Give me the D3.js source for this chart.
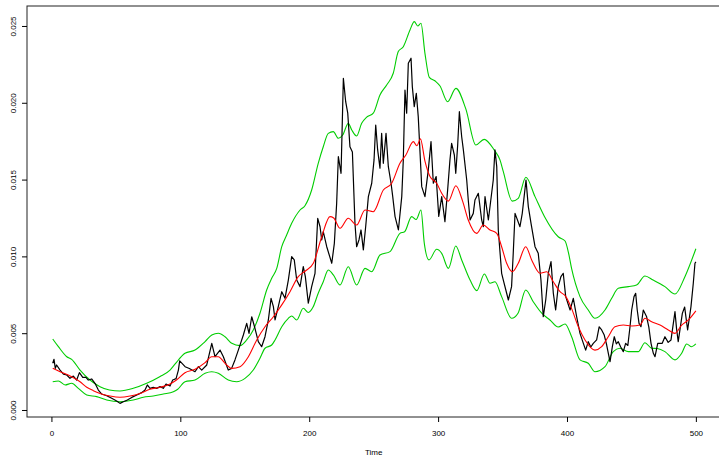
<!DOCTYPE html>
<html>
<head>
<meta charset="utf-8">
<script src="https://cdn.jsdelivr.net/npm/d3@7"></script>
<style>
body{margin:0;background:#fff}
svg{display:block}
text{font-family:"Liberation Sans",Arial,sans-serif}
</style>
</head>
<body>
<div id="chart"></div>
<script>
// values are in thousandths (x 1e-3)
var xTicks = [0, 100, 200, 300, 400, 500];
var yTicks = [0, 5, 10, 15, 20, 25];

var blackT = [1,2,3,4,6.7,9.3,11.9,14.4,17,19.6,21.7,24.3,26.8,28.6,31.2,33.8,36.4,39,42.9,46.8,50.6,53.2,55.8,58.9,62.3,66.2,70,72.6,74.4,76.5,79,81.6,84.3,86.8,88.9,92,94.1,96.7,98.5,99.5,103.7,107,111.4,114,116.6,120.5,124.4,126.9,130.8,133.4,137.2,139.8,142.4,145,148.9,151.5,153.3,155.4,157.9,160.5,163.1,165.7,168.3,170.4,172.2,173.5,176,178.7,181.2,183.8,186.4,188.4,190.3,192.9,195.4,197,199.3,201.9,204.5,206.6,208.4,209.7,210.9,213.6,217.5,219.5,221.3,222.6,224.7,226.5,228.3,229.9,231.6,233.5,235.5,236.8,238.6,240.2,242,243.8,245.9,248.5,250.3,251.6,253.1,254.9,256.2,257.5,259.6,261.4,263.5,264.8,266.6,269.2,271.8,273,274.3,275.6,276.9,279,280,281.5,283.1,284.6,287.3,289.8,292.4,294.5,296.3,298.5,300.5,302.8,305.3,307.4,309.2,310.5,312.6,313.7,315.2,316.5,318.3,319.6,322.2,323.4,324.8,327.3,328.6,331.2,333.8,335.1,336.4,339,342.8,344.1,345.5,346.7,349.3,350.6,353.2,354.5,357,358.3,359.7,363.5,365.3,368.2,370,372.1,375.2,377.7,379.8,381.6,383.5,385.5,387.6,389.4,391.2,393.2,395.3,397.1,399,402.4,404.9,407.5,410.1,412.7,414.5,416.5,418.5,420.4,423,425,426.9,428.8,430.8,433.4,435.2,436.7,438.3,439.8,441.7,443.7,445.5,447.2,448.9,450.2,452,453.3,454.5,455.9,457.4,459.2,461.8,463.5,465.2,467,468.3,470.4,473.9,476,478.5,480.7,483.8,485,486.3,489.5,491.3,493.6,496.2,498,499.3,500];
var blackV = [3.04,3.3,2.71,2.93,2.6,2.34,2.28,2.06,2.21,1.95,2.43,2.13,2.13,1.95,2.02,1.74,1.3,1.04,0.93,0.76,0.59,0.43,0.54,0.65,0.82,0.98,1.13,1.3,1.63,1.41,1.48,1.41,1.52,1.41,1.69,1.56,1.95,2.04,2.6,3.2,2.82,2.7,2.49,2.82,2.6,2.93,4.34,3.47,3.9,3.47,2.6,2.71,3.26,3.9,4.88,5.64,4.99,6.07,5.32,4.45,4.12,4.77,5.86,7.27,6.73,5.86,6.73,7.7,7.27,8.46,9.98,9.77,8.46,8.03,9.33,8.68,6.95,8.03,8.9,12.48,11.93,11.07,11.61,10.63,9.55,10.85,13.46,16.49,15.41,21.59,20.07,19.32,17.14,16.8,12.15,10.63,11.07,11.72,10.42,11.93,13.89,14.76,16.28,18.55,16.93,15.74,18.01,16.06,18.01,15.84,14.76,13.89,12.59,11.72,13.89,16.28,20.83,19.32,22.57,22.9,21.05,19.75,20.62,19.1,14.54,13.89,15.63,17.47,14.76,15.2,12.6,13.89,12.26,14.32,16.28,17.36,16.6,15.41,17.25,19.42,17.79,16.93,14.97,13.67,12.37,12.8,13.67,14.11,12.37,11.93,13.89,12.37,14.97,16.93,15.84,11.72,8.9,8.46,7.6,7.16,8.03,10.2,12.8,11.93,12.8,14.97,13.24,12.15,10.63,10.2,8.46,6.07,7.16,8.9,9.66,7.6,6.51,8.03,8.68,8.9,7.38,6.51,7.27,6.07,4.99,4.34,3.9,4.45,4.1,4.34,4.56,5.42,5.21,4.9,4.23,3.14,4.12,4.77,4.3,4.45,4.1,3.8,4.34,4.2,5.42,6.51,7.38,7.6,6.51,5.64,5.42,6.51,6.07,5.4,4.34,3.69,3.47,4.34,4.34,4.77,4.4,4.56,6.4,5.3,4.45,6.29,6.7,5.21,6.73,8.25,9.55,9.64];

var redT = [1,6.7,15.7,22.2,27.4,32.5,37.7,45.5,53.2,61,68.7,76.5,84.3,92,97,103.6,111.4,119.2,124.3,129.5,134.7,139.9,146.3,152.8,159.3,165.7,172.2,178.7,185.1,191.5,197,203.2,209.7,216.1,219,223.9,230.3,236.8,243.3,249.7,257.5,264,270.4,275,280.8,283.5,286.3,289.8,293.7,298.9,302.8,308,313.8,319,323.4,329.9,335.1,340.3,345.5,349.3,353.2,357.6,362.2,368,372.6,379.1,384.3,389.4,394.6,399,403.6,408.8,414,421.7,426.9,432,437.2,443.7,450.2,456.6,460.5,465.7,472.2,478.6,483.8,489,494.2,500];
var redV = [2.71,2.49,2.17,1.84,1.48,1.26,1.08,0.91,0.83,0.91,1.08,1.35,1.48,1.69,1.95,2.43,2.65,3.08,3.47,3.47,3.04,2.71,2.82,3.47,4.56,5.42,6.07,6.84,7.7,8.68,9.05,9.55,11.28,12.59,12.5,11.83,12.48,12.04,13.02,12.91,14.32,14.76,16.06,16.6,17.47,17.2,17.65,16.2,15.2,14.76,14.11,13.6,14.6,13.6,12.37,11.5,12.04,11.72,11.5,10.63,9.55,9.0,9.55,10.63,9.77,8.9,9.0,8.35,7.7,7.4,6.6,5.42,4.56,3.9,4.12,4.77,5.42,5.53,5.47,5.53,5.97,5.75,5.53,5.21,4.99,5.53,5.86,6.45];

var upperT = [1,5.4,11.9,15.7,22.2,29.9,37.7,45,53.2,63.5,73.9,84,92,96,103.6,111.4,119.2,124.4,129.5,134.7,139.9,146.3,151.5,156.6,161.8,167,170.9,174.8,178.7,182.5,186.4,192.9,196.7,201.9,207,210.9,214.8,218.7,222.6,226,230.3,233,236.8,240.7,244.6,249.7,254.9,260.1,265.2,269.1,273,278.2,281.5,284.2,286.7,289.8,293.2,298,301.5,307.4,313.8,321.5,329.3,335.7,343.5,348,350.6,357.5,362.2,368.1,375.2,382.5,393.2,398.5,401,403.6,410.1,416.5,421.7,429.5,434.7,439.8,447.6,454,460.5,466.8,476,483.8,491.5,500];
var upperV = [4.62,4.12,3.47,3.3,2.6,1.95,1.52,1.3,1.24,1.41,1.74,2.17,2.6,3.0,3.69,3.9,4.45,4.88,5.0,4.77,4.34,4.19,4.56,5.21,6.3,7.81,8.57,9.22,10.63,11.39,12.15,13.02,13.3,14.32,16.06,17.14,18.01,18.12,17.69,17.9,18.66,18.23,17.84,18.66,19.06,19.32,20.51,21.16,21.92,23.33,23.65,24.74,25.28,25.0,25.18,23.22,21.65,21.4,21.09,20.07,20.94,19.6,17.25,17.62,16.93,16.28,15.52,13.6,13.78,15.15,13.89,12.6,11.28,11.0,10.3,9.2,7.38,6.51,5.97,6.51,7.27,7.92,8.03,8.14,8.72,8.46,8.03,7.55,8.68,10.5];

var lowerT = [1,5.4,10.6,15.7,20.9,27.4,35.1,42.9,53.2,63.5,71.3,79,86.8,94.6,98,103.6,111.4,119.2,124.3,129.5,137.2,143.7,150.2,156.6,161.8,165.7,170.9,173.5,178.7,183.8,186.4,190.3,195.4,199.3,203,207,210.9,214.8,218.7,223.9,230.3,236.8,243.3,248.5,254.9,262.7,270.4,274,279.5,283,286.7,289.3,292.9,298.9,302.8,308,313.7,318.3,324.8,330,335.9,340.3,344.1,349.3,357.1,362,368,373.8,380.4,386.8,393.2,398.5,403.6,410.1,416.5,421.7,429.5,435.9,441.1,447.6,455.3,460.5,465.7,470,476,483.8,489,492.9,496.7,500];
var lowerV = [1.84,1.89,1.63,1.74,1.41,0.98,0.87,0.65,0.54,0.65,0.83,0.91,1.04,1.19,1.35,1.84,1.95,2.39,2.49,2.39,1.95,1.84,2.06,2.6,3.37,4.02,4.23,4.56,5.42,5.97,6.12,5.86,6.62,6.35,6.7,7.6,8.35,9.11,8.79,8.14,9.33,8.14,9.22,9.0,10.09,10.31,11.5,11.6,12.59,12.4,13.02,10.85,9.77,10.46,10.2,9.22,10.68,9.77,8.46,7.77,8.85,8.25,8.35,7.38,5.97,6.3,7.81,7.05,6.3,5.86,5.4,5.6,4.77,3.26,3.04,2.49,2.82,3.8,4.02,3.8,3.8,4.38,4.02,4.0,3.8,3.26,3.69,4.3,4.12,4.3];

var W = 719, H = 457;
var svg = d3.select("#chart").append("svg")
    .attr("width", W)
    .attr("height", H);

var x = d3.scaleLinear().domain([-18.96, 519.96]).range([27, 721.6]);
var y = d3.scaleLinear().domain([-0.456, 26.3]).range([417, 6]);

function pairs(t, v){ return t.map(function(d, i){ return [d, v[i]]; }); }

var straight = d3.line()
    .x(function(d){ return x(d[0]); })
    .y(function(d){ return y(d[1]); });
var smooth = d3.line()
    .curve(d3.curveMonotoneX)
    .x(function(d){ return x(d[0]); })
    .y(function(d){ return y(d[1]); });

var plot = svg.append("g");
plot.append("path").attr("d", smooth(pairs(upperT, upperV)))
    .attr("fill", "none").attr("stroke", "#00cd00").attr("stroke-width", 1.1);
plot.append("path").attr("d", smooth(pairs(lowerT, lowerV)))
    .attr("fill", "none").attr("stroke", "#00cd00").attr("stroke-width", 1.1);
plot.append("path").attr("d", straight(pairs(blackT, blackV)))
    .attr("fill", "none").attr("stroke", "#000").attr("stroke-width", 1.2)
    .attr("stroke-linejoin", "round");
plot.append("path").attr("d", smooth(pairs(redT, redV)))
    .attr("fill", "none").attr("stroke", "#ff0000").attr("stroke-width", 1.1);

// box
svg.append("rect")
    .attr("x", 27).attr("y", 6)
    .attr("width", 721.6 - 27).attr("height", 417 - 6)
    .attr("fill", "none").attr("stroke", "#222").attr("stroke-width", 1);

// x axis
var gx = svg.append("g")
    .attr("transform", "translate(0,417)")
    .call(d3.axisBottom(x).tickValues(xTicks).tickSize(5).tickPadding(8));
gx.select(".domain").remove();
gx.selectAll("text").attr("font-size", 8).attr("font-family", "Liberation Sans, Arial, sans-serif");

// y axis
var gy = svg.append("g")
    .attr("transform", "translate(27,0)")
    .call(d3.axisLeft(y).tickValues(yTicks).tickSize(5)
        .tickFormat(function(d){ return d3.format(".3f")(d / 1000); }));
gy.select(".domain").remove();
gy.selectAll("text")
    .attr("transform", "rotate(-90)")
    .attr("x", 0).attr("y", -14).attr("dy", "0.35em")
    .attr("text-anchor", "middle")
    .attr("font-size", 8).attr("font-family", "Liberation Sans, Arial, sans-serif");

svg.append("text")
    .attr("x", x(250)).attr("y", 455)
    .attr("text-anchor", "middle")
    .attr("font-size", 8)
    .text("Time");
</script>
</body>
</html>
